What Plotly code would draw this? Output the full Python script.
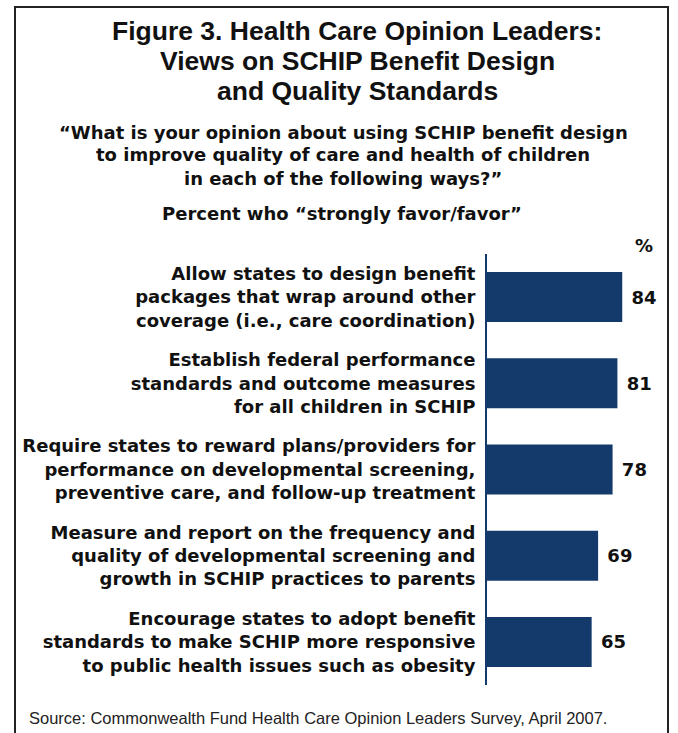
import plotly.graph_objects as go

# Survey items (top to bottom) and share who strongly favor/favor
items = [
    "Allow states to design benefit<br>packages that wrap around other<br>coverage (i.e., care coordination)",
    "Establish federal performance<br>standards and outcome measures<br>for all children in SCHIP",
    "Require states to reward plans/providers for<br>performance on developmental screening,<br>preventive care, and follow-up treatment",
    "Measure and report on the frequency and<br>quality of developmental screening and<br>growth in SCHIP practices to parents",
    "Encourage states to adopt benefit<br>standards to make SCHIP more responsive<br>to public health issues such as obesity",
]
percent = [84, 81, 78, 69, 65]

title_lines = [
    "Figure 3. Health Care Opinion Leaders:",
    "Views on SCHIP Benefit Design",
    "and Quality Standards",
]
question_lines = [
    "\u201cWhat is your opinion about using SCHIP benefit design",
    "to improve quality of care and health of children",
    "in each of the following ways?\u201d",
]
measure_label = "Percent who \u201cstrongly favor/favor\u201d"
source_note = "Source: Commonwealth Fund Health Care Opinion Leaders Survey, April 2007."

W, H = 678, 733
ML, MR, MT, MB = 487, 30, 254, 48
NAVY = "#143a6c"
INK = "#111111"
TITLE_FONT = "Liberation Sans, Arial, sans-serif"
BODY_FONT = "DejaVu Sans, Verdana, sans-serif"
BODY_SIZE = 18


def px(x):
    return (x - ML) / (W - ML - MR)


def py(y):
    return 1 - (y - MT) / (H - MT - MB)


fig = go.Figure(
    go.Bar(
        x=percent,
        y=items,
        orientation="h",
        marker=dict(color=NAVY, line=dict(width=0)),
        width=0.58,
        texttemplate=" %{x}",
        textposition="outside",
        textfont=dict(family=BODY_FONT, size=BODY_SIZE, color=INK, weight="bold"),
        cliponaxis=False,
    )
)

fig.update_xaxes(range=[0, 100], visible=False, fixedrange=True, automargin=False)
fig.update_yaxes(
    autorange="reversed",
    automargin=False,
    showline=True,
    linecolor=NAVY,
    linewidth=2,
    showgrid=False,
    zeroline=False,
    ticks="",
    ticklabelstandoff=6,
    tickfont=dict(family=BODY_FONT, size=BODY_SIZE, color=INK, weight="bold"),
)

annotations = []
for i, line in enumerate(title_lines):
    annotations.append(dict(
        text=line, x=px(357), y=py(31 + 30 * i),
        font=dict(family=TITLE_FONT, size=26.5, color=INK, weight="bold"),
    ))
for i, line in enumerate(question_lines):
    annotations.append(dict(
        text=line, x=px(343), y=py(132 + 23 * i),
        font=dict(family=BODY_FONT, size=BODY_SIZE, color=INK, weight="bold"),
    ))
annotations.append(dict(
    text=measure_label, x=px(342), y=py(214),
    font=dict(family=BODY_FONT, size=BODY_SIZE, color=INK, weight="bold"),
))
annotations.append(dict(
    text="%", x=px(644), y=py(246),
    font=dict(family=BODY_FONT, size=BODY_SIZE, color=INK, weight="bold"),
))
annotations.append(dict(
    text=source_note, x=px(27), y=py(718), xanchor="left",
    font=dict(family=TITLE_FONT, size=16.5, color="#222222"),
))
for a in annotations:
    a.update(xref="paper", yref="paper", showarrow=False)
    a.setdefault("xanchor", "center")
    a.setdefault("yanchor", "middle")

fig.update_layout(
    width=W,
    height=H,
    margin=dict(l=ML, r=MR, t=MT, b=MB, autoexpand=False),
    paper_bgcolor="white",
    plot_bgcolor="white",
    showlegend=False,
    annotations=annotations,
    shapes=[dict(
        type="rect", xref="paper", yref="paper",
        x0=px(15), x1=px(668), y0=py(7), y1=py(745),
        line=dict(color="#222222", width=2), fillcolor="rgba(0,0,0,0)",
        layer="above",
    )],
)

fig.write_html("out.html")
